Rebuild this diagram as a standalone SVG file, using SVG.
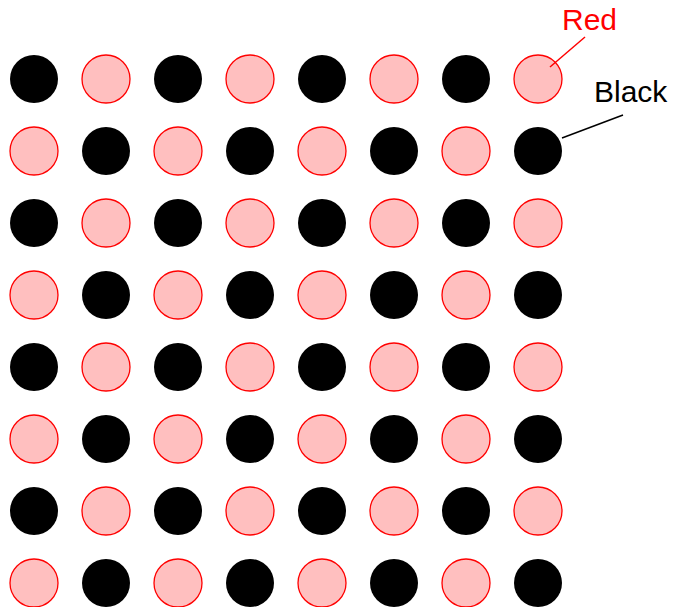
<svg xmlns="http://www.w3.org/2000/svg" width="674" height="607" viewBox="0 0 674 607">
<style>
.b{fill:#000}
.r{fill:#ffbfbf;stroke:#ff0000;stroke-width:1.3}
.t{font-family:"Liberation Sans",Arial,sans-serif;font-size:30px}
</style>
<rect width="674" height="607" fill="#fff"/>
<g id="r0"><circle class="b" cx="34" cy="79" r="24"/><circle class="r" cx="106" cy="79" r="24"/><circle class="b" cx="178" cy="79" r="24"/><circle class="r" cx="250" cy="79" r="24"/><circle class="b" cx="322" cy="79" r="24"/><circle class="r" cx="394" cy="79" r="24"/><circle class="b" cx="466" cy="79" r="24"/><circle class="r" cx="538" cy="79" r="24"/></g>
<g id="r1"><circle class="r" cx="34" cy="151" r="24"/><circle class="b" cx="106" cy="151" r="24"/><circle class="r" cx="178" cy="151" r="24"/><circle class="b" cx="250" cy="151" r="24"/><circle class="r" cx="322" cy="151" r="24"/><circle class="b" cx="394" cy="151" r="24"/><circle class="r" cx="466" cy="151" r="24"/><circle class="b" cx="538" cy="151" r="24"/></g>
<g id="r2"><circle class="b" cx="34" cy="223" r="24"/><circle class="r" cx="106" cy="223" r="24"/><circle class="b" cx="178" cy="223" r="24"/><circle class="r" cx="250" cy="223" r="24"/><circle class="b" cx="322" cy="223" r="24"/><circle class="r" cx="394" cy="223" r="24"/><circle class="b" cx="466" cy="223" r="24"/><circle class="r" cx="538" cy="223" r="24"/></g>
<g id="r3"><circle class="r" cx="34" cy="295" r="24"/><circle class="b" cx="106" cy="295" r="24"/><circle class="r" cx="178" cy="295" r="24"/><circle class="b" cx="250" cy="295" r="24"/><circle class="r" cx="322" cy="295" r="24"/><circle class="b" cx="394" cy="295" r="24"/><circle class="r" cx="466" cy="295" r="24"/><circle class="b" cx="538" cy="295" r="24"/></g>
<g id="r4"><circle class="b" cx="34" cy="367" r="24"/><circle class="r" cx="106" cy="367" r="24"/><circle class="b" cx="178" cy="367" r="24"/><circle class="r" cx="250" cy="367" r="24"/><circle class="b" cx="322" cy="367" r="24"/><circle class="r" cx="394" cy="367" r="24"/><circle class="b" cx="466" cy="367" r="24"/><circle class="r" cx="538" cy="367" r="24"/></g>
<g id="r5"><circle class="r" cx="34" cy="439" r="24"/><circle class="b" cx="106" cy="439" r="24"/><circle class="r" cx="178" cy="439" r="24"/><circle class="b" cx="250" cy="439" r="24"/><circle class="r" cx="322" cy="439" r="24"/><circle class="b" cx="394" cy="439" r="24"/><circle class="r" cx="466" cy="439" r="24"/><circle class="b" cx="538" cy="439" r="24"/></g>
<g id="r6"><circle class="b" cx="34" cy="511" r="24"/><circle class="r" cx="106" cy="511" r="24"/><circle class="b" cx="178" cy="511" r="24"/><circle class="r" cx="250" cy="511" r="24"/><circle class="b" cx="322" cy="511" r="24"/><circle class="r" cx="394" cy="511" r="24"/><circle class="b" cx="466" cy="511" r="24"/><circle class="r" cx="538" cy="511" r="24"/></g>
<g id="r7"><circle class="r" cx="34" cy="583" r="24"/><circle class="b" cx="106" cy="583" r="24"/><circle class="r" cx="178" cy="583" r="24"/><circle class="b" cx="250" cy="583" r="24"/><circle class="r" cx="322" cy="583" r="24"/><circle class="b" cx="394" cy="583" r="24"/><circle class="r" cx="466" cy="583" r="24"/><circle class="b" cx="538" cy="583" r="24"/></g>
<g id="connectors">
<line x1="585" y1="37" x2="550" y2="67" stroke="#ff0000" stroke-width="1.5"/>
<line x1="623" y1="115" x2="562" y2="138" stroke="#000" stroke-width="1.5"/>
</g>
<g id="labels">
<text class="t" x="562" y="30" fill="#ff0000">Red</text>
<text class="t" x="594" y="102" fill="#000">Black</text>
</g>
</svg>
